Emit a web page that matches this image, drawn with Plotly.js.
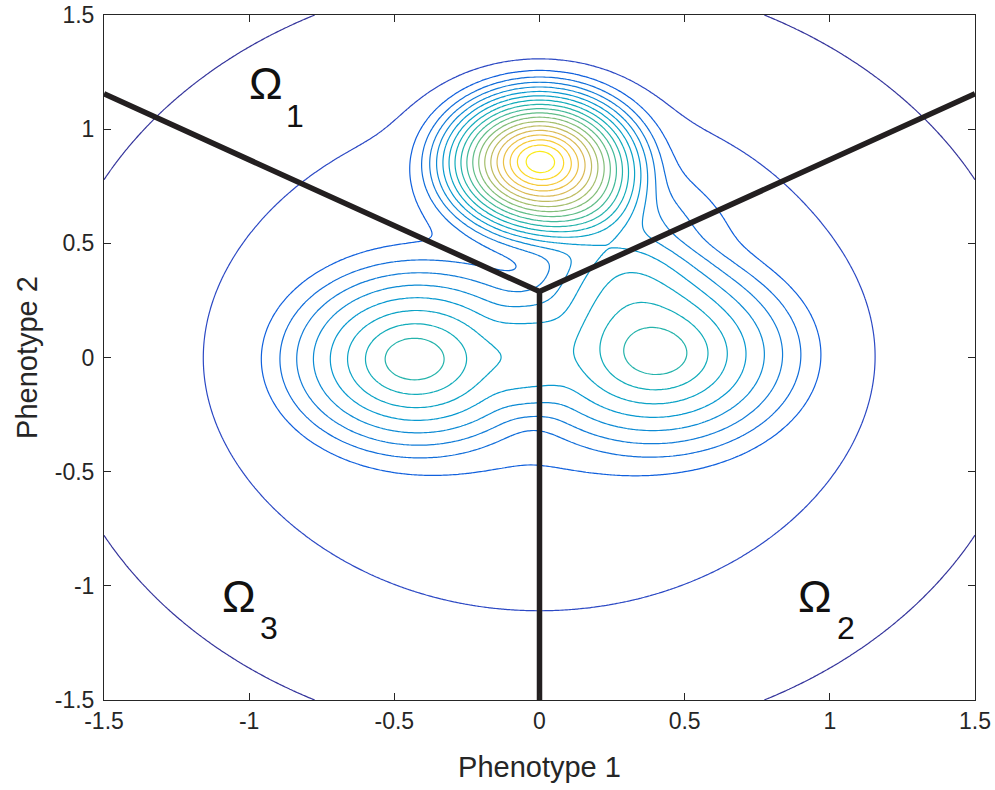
<!DOCTYPE html>
<html>
<head>
<meta charset="utf-8">
<script src="https://cdn.plot.ly/plotly-3.0.1.min.js"></script>
<style>html,body{margin:0;padding:0;background:#fff;}#chart{width:995px;height:790px;}</style>
</head>
<body>
<div id="chart"></div>
<script>
// ---- Data: components of the phenotype density ----
const compNames    = ['top peak', 'left peak', 'right peak', 'upper-right bridge', 'left tail', 'right tail', 'background'];
const compX        = [0.0, -0.437, 0.41, 0.28, -0.437, 0.41, 0.0];
const compY        = [0.862, -0.007, 0.013, 0.50, -0.007, 0.013, 0.0];
const compHeight   = [21.9, 8.95, 8.75, 3.2, 0.25, 0.25, 2.95];
const compRadiusX  = [0.43, 0.555, 0.60, 0.28, 0.70, 0.70, 1.634];
const compRadiusY  = [0.403, 0.50, 0.52, 0.28, 0.55, 0.55, 1.634];
const compProfile  = ['cone', 'cone', 'cone', 'gauss', 'gauss', 'gauss', 'gauss'];
const compExponent = [1, 1, 1, 2, 2, 2, 2.42];
const compTip      = [0.174, 0.144, 0.144, 0, 0, 0, 0];
const compFoot     = [0.08, 0.054, 0.054, 0, 0, 0, 0];

// contour levels drawn
const contourLevels = [1,2,3,4,5,6,7,8,9,10,11,12,13,14,15,16,17,18,19,20];
// data range used for the colour mapping (line colours over the data range)
const colourRange = [0.45, 20.8];

// region boundaries (lines between the three optima)
const boundaryUpperX = [-1.5, 0, 1.5];
const boundaryUpperY = [1.1547, 0.2887, 1.1547];
const boundaryLowerX = [0, 0];
const boundaryLowerY = [0.2887, -1.5];

// region labels: Omega glyph and its subscript
const regionSymbol = ['Ω', 'Ω', 'Ω'];
const regionSub    = ['1', '2', '3'];
const symbolX      = [-1.006, 0.885, -1.102];
const symbolY      = [1.202, -1.048, -1.048];
const subX         = [-0.880, 1.018, -0.971];
const subY         = [1.056, -1.186, -1.186];

// axis ticks
const tickVals   = [-1.5, -1, -0.5, 0, 0.5, 1, 1.5];
const tickLabels = ['-1.5', '-1', '-0.5', '0', '0.5', '1', '1.5'];

// ---- density grid ----
function profile(k, dn) {
  if (compProfile[k] === 'cone') {
    const t = compTip[k], w = compFoot[k];
    return w * Math.log1p(Math.exp((1 - Math.sqrt(dn * dn + t * t)) / w));
  }
  return Math.exp(-Math.pow(dn, compExponent[k]));
}
const gx = [], gy = [];
for (let i = 0; i <= 300; i++) { gx.push(-1.5 + i * 0.01); gy.push(-1.5 + i * 0.01); }
const gz = gy.map(y => gx.map(x => {
  let s = 0;
  for (let k = 0; k < compX.length; k++) {
    const dx = (x - compX[k]) / compRadiusX[k];
    const dy = (y - compY[k]) / compRadiusY[k];
    s += compHeight[k] * profile(k, Math.sqrt(dx * dx + dy * dy));
  }
  return s;
}));

// parula colormap (classic MATLAB version), sampled
const parulaPos = [0, 3/63, 5/63, 7/63, 14/63, 21/63, 28/63, 35/63, 42/63, 49/63, 56/63, 1];
const parulaRGB = [
  [0.2081, 0.1663, 0.5292], [0.2081, 0.2386, 0.6771], [0.1707, 0.2919, 0.7792],
  [0.0591, 0.3598, 0.8683], [0.0723, 0.4887, 0.8467], [0.0265, 0.6137, 0.8135],
  [0.0843, 0.6928, 0.7062], [0.3482, 0.7424, 0.5473], [0.6473, 0.7456, 0.4188],
  [0.8824, 0.7274, 0.3217], [0.9880, 0.8066, 0.1794], [0.9763, 0.9831, 0.0538]
];
function parulaAt(u) {
  u = Math.max(0, Math.min(1, u));
  let i = 0;
  while (i < parulaPos.length - 2 && u > parulaPos[i + 1]) i++;
  const f = (u - parulaPos[i]) / (parulaPos[i + 1] - parulaPos[i]);
  const c = parulaRGB[i].map((v, j) => Math.round(255 * (v + f * (parulaRGB[i + 1][j] - v))));
  return 'rgb(' + c.join(',') + ')';
}
const lvMin = contourLevels[0], lvMax = contourLevels[contourLevels.length - 1];
const colourscale = [];
for (let i = 0; i <= 38; i++) {
  const t = i / 38;
  const level = lvMin + t * (lvMax - lvMin);
  colourscale.push([t, parulaAt((level - colourRange[0]) / (colourRange[1] - colourRange[0]))]);
}

const contourTrace = {
  type: 'contour',
  x: gx, y: gy, z: gz,
  colorscale: colourscale,
  showscale: false,
  contours: { coloring: 'lines', start: lvMin, end: lvMax, size: contourLevels[1] - contourLevels[0] },
  line: { width: 1.2, smoothing: 1 },
  hoverinfo: 'skip'
};

const lineStyle = { color: '#231f20', width: 5.5 };
const b1 = { type: 'scatter', mode: 'lines', x: boundaryUpperX, y: boundaryUpperY, line: lineStyle, hoverinfo: 'skip', showlegend: false };
const b2 = { type: 'scatter', mode: 'lines', x: boundaryLowerX, y: boundaryLowerY, line: lineStyle, hoverinfo: 'skip', showlegend: false };

const FONT = 'Liberation Sans, Arial, Helvetica, sans-serif';
const axisCommon = {
  range: [-1.5, 1.5],
  tickvals: tickVals,
  ticktext: tickLabels,
  ticks: 'inside',
  ticklen: 7,
  tickwidth: 1,
  tickcolor: '#262626',
  showline: true,
  linecolor: '#262626',
  linewidth: 1,
  mirror: 'ticks',
  showgrid: false,
  zeroline: false,
  tickfont: { family: FONT, size: 23, color: '#262626' }
};

const annotations = [];
for (let i = 0; i < regionSymbol.length; i++) {
  annotations.push({ x: symbolX[i], y: symbolY[i], xref: 'x', yref: 'y', text: regionSymbol[i],
    showarrow: false, xanchor: 'left', yanchor: 'middle', font: { family: FONT, size: 45, color: '#111' } });
  annotations.push({ x: subX[i], y: subY[i], xref: 'x', yref: 'y', text: regionSub[i],
    showarrow: false, xanchor: 'left', yanchor: 'middle', font: { family: FONT, size: 32, color: '#111' } });
}

const layout = {
  width: 995, height: 790,
  margin: { l: 104, r: 20, t: 15, b: 90 },
  paper_bgcolor: '#fff', plot_bgcolor: '#fff',
  showlegend: false,
  xaxis: Object.assign({}, axisCommon, {
    title: { text: 'Phenotype 1', font: { family: FONT, size: 29, color: '#262626' }, standoff: 24 }
  }),
  yaxis: Object.assign({}, axisCommon, {
    ticklabelstandoff: 4,
    title: { text: 'Phenotype 2', font: { family: FONT, size: 29, color: '#262626' }, standoff: 8 }
  }),
  annotations: annotations
};

Plotly.newPlot('chart', [contourTrace, b1, b2], layout, { displayModeBar: false, staticPlot: true });
</script>
</body>
</html>
